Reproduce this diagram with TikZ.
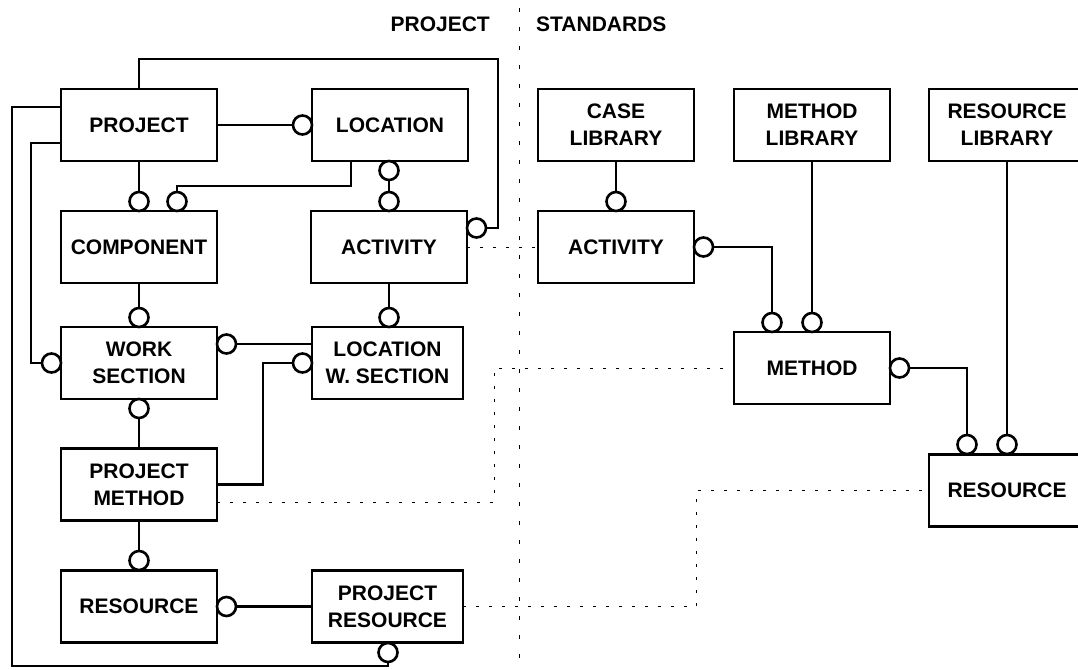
\documentclass[tikz,border=0pt]{standalone}
\usepackage{fontspec}
\setmainfont{Liberation Sans}
\begin{document}
\begin{tikzpicture}[x=1pt,y=-1pt,
  box/.style={draw, line width=2.6pt, minimum width=156pt, minimum height=72pt, inner sep=2pt, outer sep=0pt, align=center, font=\fontsize{21}{27}\selectfont\bfseries},
  narrow/.style={box, minimum width=151pt},
  circ/.style={circle, draw, fill=white, line width=2.6pt, minimum size=19pt, inner sep=0pt, outer sep=0pt},
  conn/.style={line width=2.6pt},
  dotline/.style={line width=1pt, dash pattern=on 3pt off 10pt},
  divider/.style={line width=1pt, dash pattern=on 4pt off 15pt},
  head/.style={font=\fontsize{21}{25}\selectfont\bfseries, inner sep=0pt}]
\useasboundingbox (0,0) rectangle (1078,669);
\clip (0,0) rectangle (1078,669);
\fill[white] (0,0) rectangle (1078,669);

% header
\node[head, anchor=east] (hproj) at (490,24) {PROJECT};
\node[head, anchor=west] (hstd) at (536,24) {STANDARDS};
\coordinate (dtop) at (519,8);
\coordinate (dbot) at (519,669);
\draw[divider] (dtop) -- (dbot);

% project boxes
\node[box] (proj) at (139,125) {PROJECT};
\node[box] (loc) at (390,125) {LOCATION};
\node[box] (comp) at (139,247) {COMPONENT};
\node[box] (actL) at (389,247) {ACTIVITY};
\node[box] (ws) at (139,363) {WORK\\SECTION};
\node[narrow] (lws) at (387.5,363) {LOCATION\\W. SECTION};
\node[box] (pm) at (139,484.5) {PROJECT\\METHOD};
\node[box] (resL) at (139,606.5) {RESOURCE};
\node[narrow] (pr) at (387.5,606.5) {PROJECT\\RESOURCE};

% standards boxes
\node[box] (caselib) at (616,125) {CASE\\LIBRARY};
\node[box] (actR) at (616,247) {ACTIVITY};
\node[box] (methlib) at (812,125) {METHOD\\LIBRARY};
\node[box] (meth) at (812,368) {METHOD};
\node[box] (reslib) at (1007,125) {RESOURCE\\LIBRARY};
\node[box] (res) at (1007,490.5) {RESOURCE};

% helper coordinates
\coordinate (k1) at (498,59);
\coordinate (k3) at (12,666);
\coordinate (k4) at (31,363);
\coordinate (k5) at (177,186);
\coordinate (k6) at (263,363);
\coordinate (k7) at (494,368);
\coordinate (k8) at (696,490.5);

% connectors (drawn before circles)
\draw[conn] (proj.east) -- (302,125);
\draw[conn] (proj.north) |- (k1) |- (476,228);
\draw[conn] ([yshift=18pt]proj.west) -| (k3) -| (388,652);
\draw[conn] ([yshift=-18pt]proj.west) -| (k4) -- (52,363);
\draw[conn] (proj.south) -- (139,202);
\draw[conn] ([xshift=-39pt]loc.south) |- (k5) -- (177,202);
\draw[conn] (389,171) -- (389,202);
\draw[conn] (comp.south) -- (139,318);
\draw[conn] (actL.south) -- (389,318);
\draw[conn] (226,344) -- (lws.west |- 226,344);
\draw[conn] (pm.east) -| (k6) -- (302,363);
\draw[conn] (139,409) -- (pm.north);
\draw[conn] (pm.south) -- (139,561);
\draw[conn] (pr.west) -- (226,606.5);
\draw[conn] (caselib.south) -- (616,202);
\draw[conn] (703,247) -| (772,323);
\draw[conn] (methlib.south) -- (812,323);
\draw[conn] (899,368) -| (967,445);
\draw[conn] (reslib.south) -- (1007,445);

% circles
\node[circ] (cLocL) at (302.5,125) {};
\node[circ] (cComp1) at (139,201.5) {};
\node[circ] (cComp2) at (177,201.5) {};
\node[circ] (cLocB) at (389,170.5) {};
\node[circ] (cActT) at (389,201.5) {};
\node[circ] (cActR) at (476.5,228) {};
\node[circ] (cWsT) at (139,317.5) {};
\node[circ] (cLwsT) at (389,317.5) {};
\node[circ] (cWsL) at (51.5,363) {};
\node[circ] (cWsR) at (226.5,344) {};
\node[circ] (cLwsL) at (302.5,363) {};
\node[circ] (cWsB) at (139,408.5) {};
\node[circ] (cResT) at (139,560.5) {};
\node[circ] (cResR) at (226.5,606.5) {};
\node[circ] (cPrB) at (388,652.5) {};
\node[circ] (cActRT) at (616,201.5) {};
\node[circ] (cActRR) at (703.5,247) {};
\node[circ] (cM1) at (772,322.5) {};
\node[circ] (cM2) at (812,322.5) {};
\node[circ] (cMR) at (899.5,368) {};
\node[circ] (cR1) at (967,444.5) {};
\node[circ] (cR2) at (1007,444.5) {};

% dotted links
\draw[dotline] (actL.east) -- (actR.west);
\draw[dotline] ([yshift=-17.5pt]pm.east) -| (k7) -- (meth.west);
\draw[dotline] (pr.east) -| (k8) -- (res.west);
\end{tikzpicture}
\end{document}
